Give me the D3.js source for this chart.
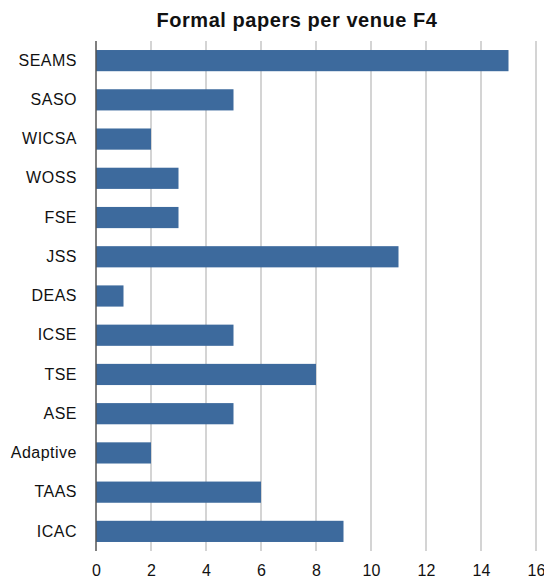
<!DOCTYPE html>
<html>
<head>
<meta charset="utf-8">
<script src="https://cdn.jsdelivr.net/npm/d3@7"></script>
<style>
  body { margin: 0; background: #fff; }
  text { font-family: "Liberation Sans", Arial, Helvetica, sans-serif; fill: #111; }
</style>
</head>
<body>
<script>
// venues, top to bottom
const venues = ['SEAMS', 'SASO', 'WICSA', 'WOSS', 'FSE', 'JSS', 'DEAS', 'ICSE', 'TSE', 'ASE', 'Adaptive', 'TAAS', 'ICAC'];
const papers = [15, 5, 2, 3, 3, 11, 1, 5, 8, 5, 2, 6, 9];
const xTicks = [0, 2, 4, 6, 8, 10, 12, 14, 16];

const width = 544, height = 579;
const margin = {top: 41, right: 8, bottom: 28, left: 96};

const svg = d3.select('body').append('svg')
  .attr('width', width)
  .attr('height', height);

const x = d3.scaleLinear()
  .domain([0, 16])
  .range([margin.left, 536]);

const y = d3.scaleBand()
  .domain(venues)
  .range([margin.top, height - margin.bottom])
  .paddingInner(0.46)
  .paddingOuter(0.23);

// title
svg.append('text')
  .attr('x', 297)
  .attr('y', 26.5)
  .attr('text-anchor', 'middle')
  .style('font-size', '20px')
  .style('font-weight', 'bold')
  .style('letter-spacing', '0.55px')
  .text('Formal papers per venue F4');

// vertical grid lines
svg.append('g')
  .selectAll('line')
  .data(xTicks.filter(d => d > 0))
  .enter().append('line')
  .attr('x1', d => x(d))
  .attr('x2', d => x(d))
  .attr('y1', margin.top)
  .attr('y2', height - margin.bottom)
  .attr('stroke', '#c6c6c6')
  .attr('stroke-width', 1.5);

// bars
svg.append('g')
  .selectAll('rect')
  .data(venues)
  .enter().append('rect')
  .attr('x', x(0))
  .attr('y', d => y(d))
  .attr('width', (d, i) => x(papers[i]) - x(0))
  .attr('height', y.bandwidth())
  .attr('fill', '#3d6a9d');

// left axis line
svg.append('line')
  .attr('x1', x(0))
  .attr('x2', x(0))
  .attr('y1', margin.top)
  .attr('y2', height - margin.bottom)
  .attr('stroke', '#555')
  .attr('stroke-width', 1.5);

// category labels
const yAxis = d3.axisLeft(y).tickSize(0).tickPadding(19);
svg.append('g')
  .attr('transform', `translate(${x(0)},0)`)
  .call(yAxis)
  .call(g => g.select('.domain').remove())
  .call(g => g.selectAll('text')
    .style('font-size', '16px')
    .style('letter-spacing', '0.5px')
    .attr('fill', '#111'));

// x tick labels
const xAxis = d3.axisBottom(x).tickValues(xTicks).tickSize(0).tickPadding(14);
svg.append('g')
  .attr('transform', `translate(0,${height - margin.bottom})`)
  .call(xAxis)
  .call(g => g.select('.domain').remove())
  .call(g => g.selectAll('text')
    .style('font-size', '16px')
    .attr('fill', '#111'));
</script>
</body>
</html>
